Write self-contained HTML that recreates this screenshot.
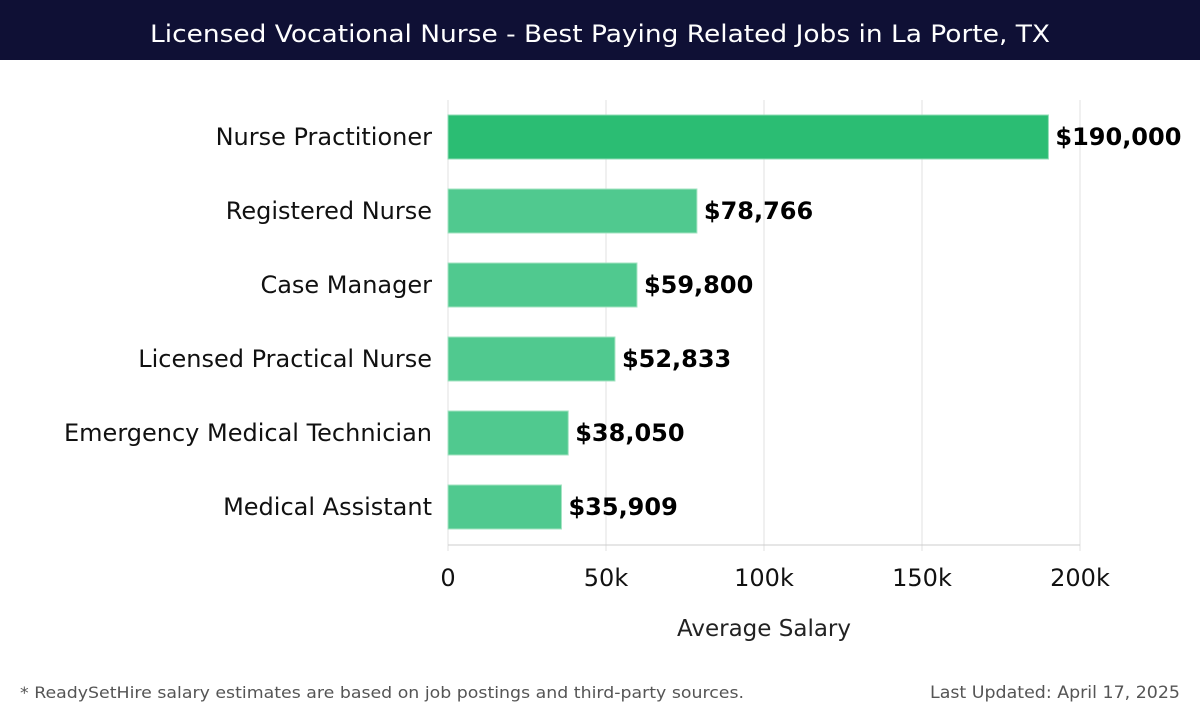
<!DOCTYPE html>
<html><head><meta charset="utf-8"><style>
body{margin:0;width:1200px;height:720px;background:#fff;overflow:hidden;font-family:"DejaVu Sans","Liberation Sans",sans-serif}
</style></head><body>
<svg width="1200" height="720" xmlns="http://www.w3.org/2000/svg">
<rect x="0" y="0" width="1200" height="60" fill="#0f1035"/>
<text x="600" y="42" text-anchor="middle" fill="#fff" font-size="24" textLength="900" lengthAdjust="spacingAndGlyphs" font-family="DejaVu Sans, sans-serif">Licensed Vocational Nurse - Best Paying Related Jobs in La Porte, TX</text>
<g id="grid"></g><g id="bars"></g><g id="labels"></g>
<text x="764" y="636" text-anchor="middle" font-size="23" fill="#222">Average Salary</text>
<text x="20" y="698" font-size="16" fill="#555" textLength="724" lengthAdjust="spacingAndGlyphs" font-family="DejaVu Sans, sans-serif">* ReadySetHire salary estimates are based on job postings and third-party sources.</text>
<text x="1180" y="698" text-anchor="end" font-size="17" fill="#555" textLength="250" lengthAdjust="spacingAndGlyphs" font-family="DejaVu Sans, sans-serif">Last Updated: April 17, 2025</text>
</svg>
<script>
const categories=["Nurse Practitioner","Registered Nurse","Case Manager","Licensed Practical Nurse","Emergency Medical Technician","Medical Assistant"];
const values=[190000,78766,59800,52833,38050,35909];
const valueLabels=["$190,000","$78,766","$59,800","$52,833","$38,050","$35,909"];
const ticks=[0,50000,100000,150000,200000];
const tickLabels=["0","50k","100k","150k","200k"];
const NS="http://www.w3.org/2000/svg";
const X0=448,X1=1080,PTOP=100,PBOT=545,PITCH=74,BH=44;
const xs=v=>X0+(v/200000)*(X1-X0);
const yc=i=>137+i*PITCH;
function mk(t,a,p){const e=document.createElementNS(NS,t);for(const k in a)e.setAttribute(k,a[k]);p.appendChild(e);return e;}
const g=document.getElementById('grid'),b=document.getElementById('bars'),l=document.getElementById('labels');
ticks.forEach((t,i)=>{
 const ln=mk('line',{x1:xs(t),x2:xs(t),y1:PTOP,y2:PBOT+6,stroke:'#e0e0e0','stroke-width':1},g);
 
 
 const tx=mk('text',{x:xs(t),y:586,'text-anchor':'middle','font-size':24,fill:'#111'},l);
 tx.textContent=tickLabels[i];
 
 
});
const ax=mk('line',{x1:X0,x2:X1,y1:PBOT,y2:PBOT,stroke:'#ccc'},g);


categories.forEach((c,i)=>{
 const r=mk('rect',{x:X0,y:yc(i)-BH/2,width:xs(values[i])-X0,height:BH,fill:i==0?'#2bbd73':'#50c98f',stroke:i==0?'#8fdcb4':'#a3e3c2','stroke-width':1},b);
 
 
 const ct=mk('text',{x:432,y:yc(i)+8,'text-anchor':'end','font-size':24,fill:'#111'},l);
 ct.textContent=c;
 
 
 const vt=mk('text',{x:xs(values[i])+7,y:yc(i)+8,'font-size':24,'font-weight':'bold',fill:'#000'},l);
 vt.textContent=valueLabels[i];
 
 
});
</script>
</body></html>
